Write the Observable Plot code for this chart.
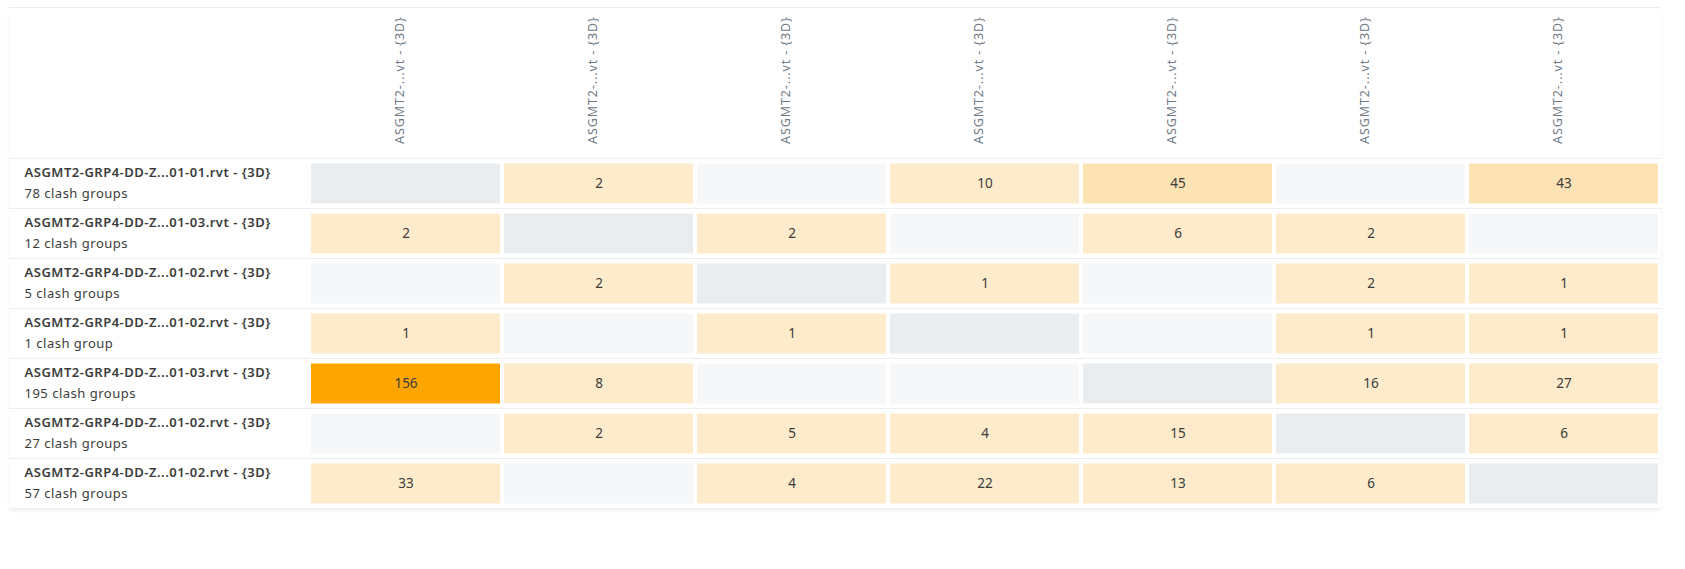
<!DOCTYPE html>
<html>
<head>
<meta charset="utf-8">
<script src="https://cdn.jsdelivr.net/npm/d3@7"></script>
<script src="https://cdn.jsdelivr.net/npm/@observablehq/plot@0.6"></script>
<style>
  html, body { margin: 0; padding: 0; background: #ffffff; }
  #card {
    position: absolute; left: 9px; top: 7px; width: 1652px;
    border-top: 1px solid #ebedf0;
    box-shadow: 0 3px 4px -1px rgba(40, 50, 70, 0.10);
    background: #ffffff;
  }
  #card svg { display: block; }
  #card g[aria-label="x-axis tick label"] text { letter-spacing: 0.9px; }
  #card g.rowname text, #card g.rowcount text { letter-spacing: 0.5px; }
</style>
</head>
<body>
<div id="card"></div>
<script>
// ---- data ----
const colLabels = [
  "ASGMT2-...vt - {3D}", "ASGMT2-...vt - {3D}", "ASGMT2-...vt - {3D}",
  "ASGMT2-...vt - {3D}", "ASGMT2-...vt - {3D}", "ASGMT2-...vt - {3D}",
  "ASGMT2-...vt - {3D}"
];
const rowNames = [
  "ASGMT2-GRP4-DD-Z...01-01.rvt - {3D}",
  "ASGMT2-GRP4-DD-Z...01-03.rvt - {3D}",
  "ASGMT2-GRP4-DD-Z...01-02.rvt - {3D}",
  "ASGMT2-GRP4-DD-Z...01-02.rvt - {3D}",
  "ASGMT2-GRP4-DD-Z...01-03.rvt - {3D}",
  "ASGMT2-GRP4-DD-Z...01-02.rvt - {3D}",
  "ASGMT2-GRP4-DD-Z...01-02.rvt - {3D}"
];
const rowGroups = [78, 12, 5, 1, 195, 27, 57];
// null = no clashes; diagonal cells (row === col) are the model against itself
const row1 = [null, 2, null, 10, 45, null, 43];
const row2 = [2, null, 2, null, 6, 2, null];
const row3 = [null, 2, null, 1, null, 2, 1];
const row4 = [1, null, 1, null, null, 1, 1];
const row5 = [156, 8, null, null, null, 16, 27];
const row6 = [null, 2, 5, 4, 15, null, 6];
const row7 = [33, null, 4, 22, 13, 6, null];
const matrix = [row1, row2, row3, row4, row5, row6, row7];

const colorThresholds = [40, 80, 120];
const colorRange = ["#feebcb", "#fde3b4", "#fec878", "#ffa500"];

// ---- table ----
const rowIdx = rowNames.map((_, i) => i);
const colIdx = colLabels.map((_, j) => j);
const cells = [];
matrix.forEach((r, i) => r.forEach((v, j) => {
  cells.push({row: i, col: j, value: v, kind: i === j ? "self" : (v == null ? "empty" : "value")});
}));
const selfCells = cells.filter(d => d.kind === "self");
const emptyCells = cells.filter(d => d.kind === "empty");
const valueCells = cells.filter(d => d.kind === "value");
const rowInfo = rowIdx.map(i => ({
  row: i, name: rowNames[i],
  groups: rowGroups[i] + (rowGroups[i] === 1 ? " clash group" : " clash groups")
}));

const cellInset = {insetLeft: 2, insetRight: 2, insetTop: 5.5, insetBottom: 4.5};

const chart = Plot.plot({
  width: 1652,
  height: 500,
  marginTop: 149.5,
  marginBottom: 0.5,
  marginLeft: 0,
  marginRight: 0,
  style: {fontFamily: "'Noto Sans', sans-serif", fontSize: "13px", color: "#3c3c3c", background: "#ffffff"},
  x: {type: "band", domain: colIdx, range: [300, 1651.7], padding: 0},
  y: {type: "band", domain: rowIdx, padding: 0, axis: null},
  color: {type: "threshold", domain: colorThresholds, range: colorRange},
  marks: [
    Plot.ruleY(rowIdx, {y: d => d, dy: -25, stroke: "#eceef1", strokeWidth: 1}),
    Plot.ruleY(rowIdx.slice(-1), {y: d => d, dy: 25, stroke: "#e6e9ec", strokeWidth: 1}),
    Plot.cell(selfCells, {x: "col", y: "row", fill: "#eaedf0", ...cellInset}),
    Plot.cell(emptyCells, {x: "col", y: "row", fill: "#f5f7f9", ...cellInset}),
    Plot.cell(valueCells, {x: "col", y: "row", fill: "value", ...cellInset}),
    Plot.text(valueCells, {x: "col", y: "row", text: d => String(d.value), dy: 0.5,
      fill: "#3c3c3c", fontSize: 13.5}),
    Plot.text(rowInfo, {y: "row", text: "name", frameAnchor: "left", textAnchor: "start",
      dx: 15, dy: -10.5, fontWeight: 600, fill: "#3c3c3c", fontSize: 13, className: "rowname"}),
    Plot.text(rowInfo, {y: "row", text: "groups", frameAnchor: "left", textAnchor: "start",
      dx: 15, dy: 10.5, fill: "#3c3c3c", fontSize: 13, className: "rowcount"}),
    Plot.axisX({anchor: "top", tickSize: 0, tickRotate: -90, tickPadding: 14,
      tickFormat: i => colLabels[i], label: null, fill: "#6f7a86", fontSize: 12.5, dx: -6})
  ]
});
document.getElementById("card").appendChild(chart);
</script>
</body>
</html>
